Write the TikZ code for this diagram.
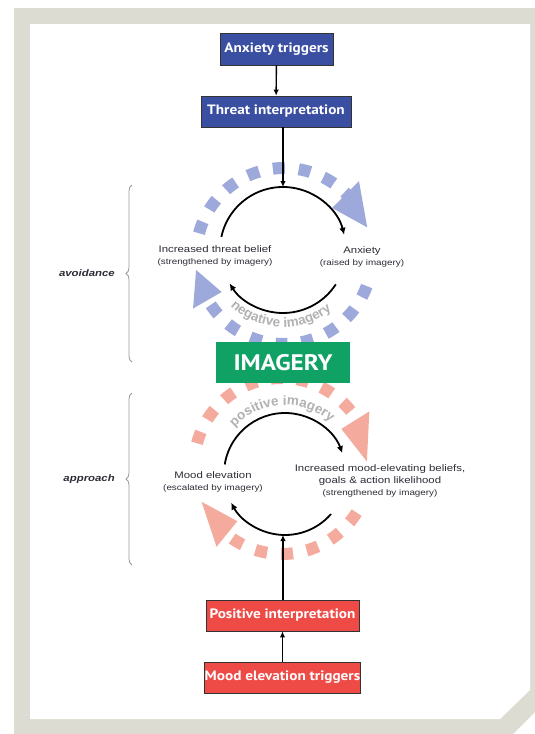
\documentclass[tikz,border=0pt]{standalone}
\usepackage{fontspec}
\setmainfont{Liberation Sans}
\newfontfamily\lab[FakeStretch=1.2]{Liberation Sans}
\newfontfamily\boxfont[FakeStretch=1.12]{PT Sans}
\usetikzlibrary{arrows.meta,decorations.text,decorations.pathreplacing}
\definecolor{framegray}{RGB}{220,220,210}
\definecolor{boxblue}{RGB}{58,78,162}
\definecolor{boxred}{RGB}{238,75,71}
\definecolor{boxgreen}{RGB}{16,161,100}
\definecolor{dashblue}{RGB}{158,169,219}
\definecolor{dashsalmon}{RGB}{245,170,158}
\definecolor{arcgray}{RGB}{178,178,178}
\definecolor{labtext}{RGB}{45,45,55}
\newcommand{\arcfont}{\normalfont\bfseries\fontsize{13.5}{14}\selectfont\color{arcgray}}
\newcommand{\mainlab}{\lab\fontsize{9.5}{13}\selectfont}
\newcommand{\sublab}{\lab\fontsize{8.2}{13}\selectfont}
\tikzset{
  boxstyle/.style={draw=black!80, line width=0.8pt, text=white, inner sep=0pt,
    font=\boxfont\bfseries\fontsize{13.6}{14}\selectfont, minimum height=31pt},
  bluebox/.style={boxstyle, fill=boxblue},
  redbox/.style={boxstyle, fill=boxred},
  imgbox/.style={fill=boxgreen, text=white, inner sep=0pt, minimum width=134pt, minimum height=41pt,
    font=\boxfont\bfseries\fontsize{22.5}{23}\selectfont},
  flowarrow/.style={line width=1.4pt, -{Latex[length=6pt,width=5.5pt]}},
  blk/.style={line width=1.8pt, -{Latex[length=7pt,width=6.5pt]}},
  dashbig/.style={line width=12pt, dash pattern=on 12pt off 14pt},
  bracestyle/.style={draw=black!40, line width=0.8pt, decorate, decoration={brace, amplitude=6pt}},
  label/.style={align=center, text=labtext, inner sep=0pt},
  side/.style={text=labtext, inner sep=0pt, anchor=east, font=\lab\bfseries\itshape\fontsize{9.5}{11}\selectfont}
}
\begin{document}
\begin{tikzpicture}[x=1pt,y=1pt]
\useasboundingbox (0,0) rectangle (535,-734);
\fill[white] (0,0) rectangle (535,-734);
\fill[framegray] (14,-8) -- (535,-8) -- (535,-712) -- (513,-734) -- (14,-734) -- cycle;
\fill[white] (30,-24) -- (530,-24) -- (530,-690) -- (500,-719) -- (30,-719) -- cycle;

% centres
\coordinate (ud) at (284,-256);
\coordinate (ld) at (282,-466);
\coordinate (uk) at (283,-250);
\coordinate (lk) at (285,-474);

% dashed big arcs (upper, blue)
\draw[dashbig, draw=dashblue] ([shift={(165:88pt)}]ud) arc[start angle=165, end angle=44, radius=88pt];
\fill[dashblue] ([shift={(45:68pt)}]ud) -- ([shift={(19:88pt)}]ud) -- ([shift={(45:106pt)}]ud) -- cycle;
\draw[dashbig, draw=dashblue] ([shift={(-20:88pt)}]ud) arc[start angle=-20, end angle=-149, radius=88pt];
\fill[dashblue] ([shift={(210:72pt)}]ud) -- ([shift={(189:89pt)}]ud) -- ([shift={(210:105pt)}]ud) -- cycle;
% dashed big arcs (lower, salmon)
\draw[dashbig, draw=dashsalmon] ([shift={(165:88pt)}]ld) arc[start angle=165, end angle=33, radius=88pt];
\fill[dashsalmon] ([shift={(32:70pt)}]ld) -- ([shift={(3:85pt)}]ld) -- ([shift={(32:103pt)}]ld) -- cycle;
\draw[dashbig, draw=dashsalmon] ([shift={(-32:88pt)}]ld) arc[start angle=-32, end angle=-128, radius=88pt];
\fill[dashsalmon] ([shift={(231:71pt)}]ld) -- ([shift={(204:88pt)}]ld) -- ([shift={(231:104pt)}]ld) -- cycle;

% curved texts
\path[decorate, decoration={text along path, text={|\arcfont|negative imagery}, text align=center}]
  ([shift={(213:77pt)}]uk) arc[start angle=213, end angle=323, radius=77pt];
\path[decorate, decoration={text along path, text={|\arcfont|positive imagery}, text align=center}]
  ([shift={(148:69pt)}]lk) arc[start angle=148, end angle=38, radius=69pt];

% IMAGERY
\node[imgbox] (img) at (283,-362.5) {IMAGERY};

% black cycle arcs
\draw[blk] ([shift={(168:63pt)}]uk) arc[start angle=168, end angle=14, radius=63pt];
\draw[blk] ([shift={(-33:63pt)}]uk) arc[start angle=-33, end angle=-148, radius=63pt];
\draw[blk] ([shift={(171:61pt)}]lk) arc[start angle=171, end angle=20, radius=61pt];
\draw[blk] ([shift={(-41:61pt)}]lk) arc[start angle=-41, end angle=-152, radius=61pt];

% boxes
\node[bluebox, minimum width=113pt, minimum height=32pt] (anx) at (276.5,-49) {Anxiety triggers};
\node[bluebox, minimum width=150pt] (threat) at (276,-111.5) {Threat interpretation};
\node[redbox, minimum width=153pt] (pos) at (282.5,-615.5) {Positive interpretation};
\node[redbox, minimum width=153pt] (mood) at (282.5,-677.5) {Mood elevation triggers};

\coordinate (uctop) at (283,-187);
\coordinate (lcbot) at (283,-535);
\draw[flowarrow] (anx) -- (threat);
\draw[flowarrow] (threat.south -| uctop) -- (uctop);
\draw[flowarrow] (mood) -- (pos);
\draw[flowarrow] (pos.north -| lcbot) -- (lcbot);

% labels
\node[label] (ltb) at (215,-255.5) {{\mainlab Increased threat belief}\\{\sublab (strengthened by imagery)}};
\node[label] (lanx) at (362,-257) {{\mainlab Anxiety}\\{\sublab (raised by imagery)}};
\node[label] (lmood) at (213,-481.5) {{\mainlab Mood elevation}\\{\sublab (escalated by imagery)}};
\node[label] (lbel) at (380,-481) {{\mainlab Increased mood-elevating beliefs,}\\{\mainlab goals \& action likelihood}\\{\sublab (strengthened by imagery)}};

% braces
\coordinate (b1a) at (132,-362);
\coordinate (b1b) at (132,-185);
\coordinate (b2a) at (132,-565);
\coordinate (b2b) at (132,-393);
\draw[bracestyle] (b1a) -- (b1b);
\draw[bracestyle] (b2a) -- (b2b);
\node[side] (avo) at (115,-273.5) {avoidance};
\node[side] (app) at (115,-479) {approach};
\end{tikzpicture}
\end{document}
